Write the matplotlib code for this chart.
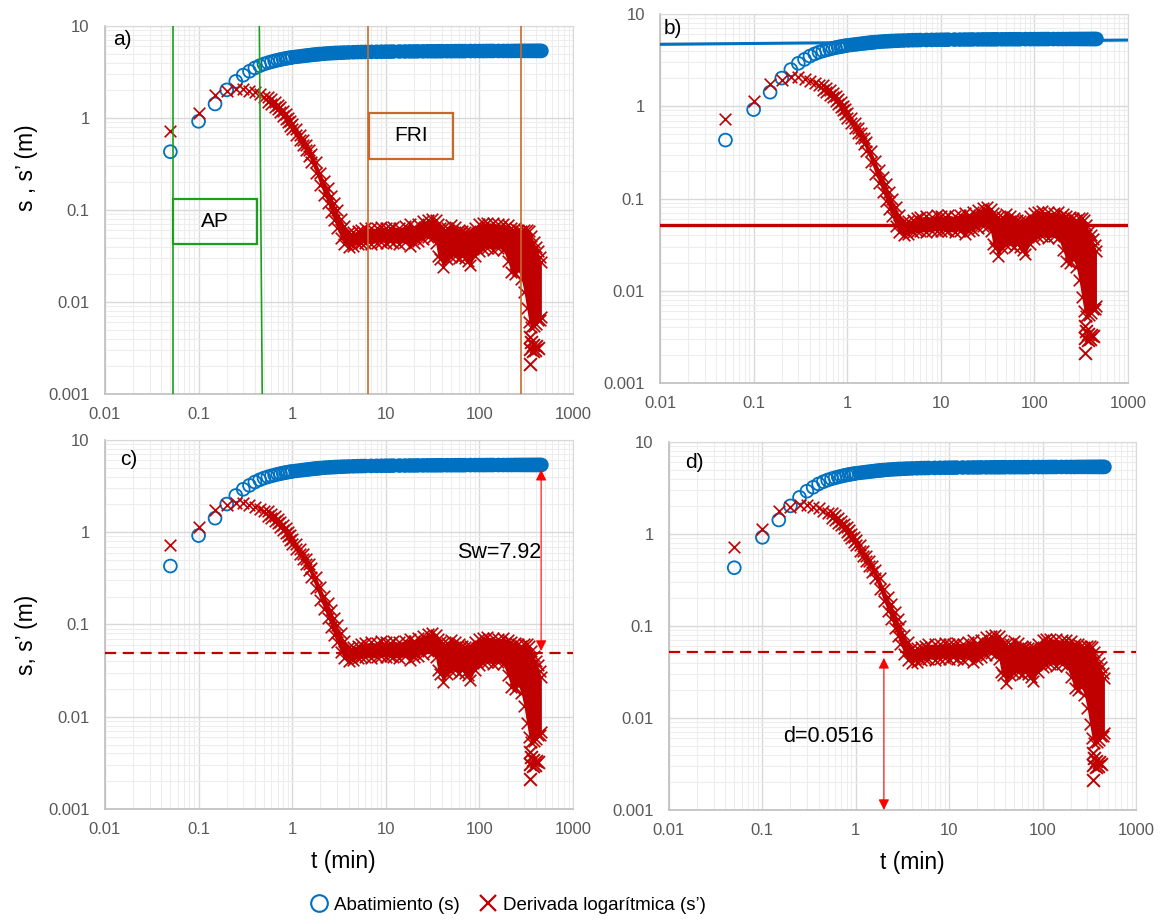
import matplotlib
matplotlib.use("Agg")
import matplotlib.pyplot as plt
from matplotlib.lines import Line2D
from matplotlib.patches import Rectangle
from matplotlib.ticker import LogLocator, NullFormatter

plt.rcParams['font.family'] = ['Liberation Sans', 'DejaVu Sans']

BLUE = '#0070C0'
RED = '#C00000'
GREEN = '#1AA01A'
ORANGE = '#C8692A'

# drawdown s (m) vs time (min)
t_s = [0.05, 0.10, 0.15, 0.20, 0.25, 0.30, 0.35, 0.40, 0.45, 0.50,
       0.55, 0.60, 0.65, 0.70, 0.75, 0.80, 0.85, 0.90, 0.95, 1.0,
       1.1, 1.2, 1.3, 1.4, 1.5, 1.6, 1.7, 1.8, 1.9, 2.0,
       2.2, 2.4, 2.6, 2.8, 3.0, 3.3, 3.6, 4.0, 4.5, 5.0,
       5.5, 6.0, 7.0, 8.0, 9.0, 10, 11, 12, 14, 16,
       18, 20, 22, 25, 28, 31, 34, 37, 40, 45,
       50, 55, 60, 65, 70, 80, 90, 100, 110, 120,
       130, 140, 160, 180, 200, 220, 240, 260, 280, 300,
       320, 340, 360, 380, 400, 420, 440, 460]
s = [0.43, 0.92, 1.42, 2.02, 2.50, 2.92, 3.22, 3.50, 3.70, 3.86,
     3.98, 4.08, 4.17, 4.25, 4.32, 4.38, 4.43, 4.48, 4.52, 4.56,
     4.62, 4.67, 4.72, 4.76, 4.80, 4.84, 4.87, 4.90, 4.93, 4.96,
     5.00, 5.03, 5.06, 5.08, 5.10, 5.12, 5.14, 5.16, 5.18, 5.20,
     5.21, 5.22, 5.23, 5.24, 5.25, 5.26, 5.26, 5.27, 5.28, 5.28,
     5.29, 5.29, 5.30, 5.30, 5.31, 5.31, 5.31, 5.32, 5.32, 5.32,
     5.32, 5.33, 5.33, 5.33, 5.33, 5.34, 5.34, 5.34, 5.34, 5.35,
     5.35, 5.35, 5.35, 5.35, 5.35, 5.35, 5.36, 5.36, 5.36, 5.36,
     5.36, 5.36, 5.36, 5.36, 5.36, 5.36, 5.36, 5.36]

# log derivative s' - early single points
t_d = [0.05, 0.10, 0.15, 0.20, 0.25, 0.30, 0.35, 0.40, 0.45, 0.50]
d = [0.72, 1.13, 1.76, 1.95, 2.08, 2.05, 1.98, 1.90, 1.80, 1.70]

# log derivative s' - dense noisy cloud (upper and lower edge)
t_band = [0.55, 0.60, 0.65, 0.70, 0.75, 0.80, 0.85, 0.90, 0.95, 1.0,
          1.1, 1.2, 1.3, 1.4, 1.5,
          1.6, 1.8, 2.0, 2.2, 2.4, 2.6, 2.8, 3.0, 3.3, 3.6,
          4.0, 4.5, 5.0, 5.5, 6.0, 7.0, 8.0, 9.0, 10, 11,
          12, 14, 16, 18, 20, 22, 25, 28, 31, 34,
          36, 38, 41, 45, 50, 55, 60, 65, 70, 75,
          80, 90, 100, 110, 120, 140, 160, 180, 200, 220,
          240, 260, 280, 300, 320, 340, 360, 380, 400, 420,
          440, 460]
d_hi = [1.70, 1.59, 1.50, 1.40, 1.30, 1.19, 1.10, 1.01, 0.93, 0.85,
        0.75, 0.66, 0.58, 0.51, 0.45,
        0.41, 0.33, 0.255, 0.205, 0.172, 0.142, 0.118, 0.099, 0.080, 0.067,
        0.057, 0.057, 0.059, 0.061, 0.063, 0.064, 0.063, 0.066, 0.064, 0.063,
        0.066, 0.064, 0.067, 0.070, 0.066, 0.071, 0.075, 0.078, 0.080, 0.077,
        0.070, 0.064, 0.063, 0.063, 0.068, 0.065, 0.061, 0.059, 0.057, 0.057,
        0.059, 0.064, 0.070, 0.072, 0.073, 0.072, 0.070, 0.071, 0.068, 0.064,
        0.063, 0.061, 0.059, 0.061, 0.061, 0.059, 0.052, 0.045, 0.040, 0.036,
        0.031, 0.027]
d_lo = [1.51, 1.42, 1.33, 1.25, 1.15, 1.06, 0.97, 0.90, 0.82, 0.75,
        0.66, 0.58, 0.51, 0.45, 0.39,
        0.33, 0.25, 0.185, 0.147, 0.118, 0.094, 0.077, 0.064, 0.050, 0.043,
        0.040, 0.041, 0.043, 0.044, 0.044, 0.043, 0.044, 0.045, 0.044, 0.046,
        0.044, 0.043, 0.045, 0.041, 0.044, 0.046, 0.048, 0.051, 0.049, 0.044,
        0.032, 0.029, 0.024, 0.029, 0.031, 0.032, 0.030, 0.032, 0.030, 0.028,
        0.025, 0.032, 0.036, 0.038, 0.039, 0.037, 0.039, 0.037, 0.028, 0.021,
        0.020, 0.022, 0.018, 0.013, 0.0086, 0.0060, 0.0053, 0.0055, 0.0058, 0.0063,
        0.0064, 0.0069]

# isolated low values at the end of the test
t_tail = [345, 347, 350, 360, 370, 378, 390, 405, 425]
d_tail = [0.0042, 0.0021, 0.0031, 0.0037, 0.0029, 0.0034, 0.0030, 0.0033, 0.0032]

# fitted lines / reference values
fit_t = [0.01, 1000]
fit_s = [4.69, 5.22]
d_level = 0.0516
sw_t = 457
sw_top = 4.75
d_arrow_t = 2.0
d_arrow_top = 0.045

# vertical markers in panel a
ap_left = 0.053
ap_right = [0.446, 0.479]
fri_left = 6.5
fri_right = 276

x_ticks = [0.01, 0.1, 1, 10, 100, 1000]
x_labels = ['0.01', '0.1', '1', '10', '100', '1000']
y_ticks = [0.001, 0.01, 0.1, 1, 10]
y_labels = ['0.001', '0.01', '0.1', '1', '10']


def setup(ax, tag, tag_xy):
    ax.set_xscale('log')
    ax.set_yscale('log')
    ax.set_xlim(0.01, 1000)
    ax.set_ylim(0.001, 10)
    ax.set_xticks(x_ticks)
    ax.set_xticklabels(x_labels)
    ax.set_yticks(y_ticks)
    ax.set_yticklabels(y_labels)
    ax.xaxis.set_minor_locator(LogLocator(base=10, subs=[2, 3, 4, 5, 6, 7, 8, 9], numticks=20))
    ax.yaxis.set_minor_locator(LogLocator(base=10, subs=[2, 3, 4, 5, 6, 7, 8, 9], numticks=20))
    ax.xaxis.set_minor_formatter(NullFormatter())
    ax.yaxis.set_minor_formatter(NullFormatter())
    ax.set_axisbelow(True)
    ax.grid(which='major', color='#D9D9D9', lw=1.0)
    ax.grid(which='minor', color='#EDEDED', lw=0.8)
    ax.tick_params(which='both', length=0, labelsize=12, labelcolor='#595959')
    ax.tick_params(axis='y', pad=11)
    ax.tick_params(axis='x', pad=9)
    for side in ('top', 'right'):
        ax.spines[side].set_color('#D9D9D9')
    for side in ('left', 'bottom'):
        ax.spines[side].set_color('#BFBFBF')
        ax.spines[side].set_linewidth(1.2)
    ax.text(tag_xy[0], tag_xy[1], tag, transform=ax.transAxes, fontsize=15,
            ha='left', va='center', color='black')


def draw_data(ax):
    # drawdown: dense late points merge into a solid band
    late = [i for i, t in enumerate(t_s) if t >= 1.1]
    ax.plot([t_s[i] for i in late], [s[i] for i in late], color=BLUE, lw=9.0,
            solid_capstyle='round', zorder=3)
    ax.scatter(t_s, s, s=85, marker='o', facecolors='none', edgecolors=BLUE,
               linewidths=1.3, zorder=3)
    # log derivative
    ax.fill_between(t_band, d_lo, d_hi, color=RED, lw=0, zorder=4)
    for edge in (d_hi, d_lo):
        ax.scatter(t_band, edge, s=70, marker='x', color=RED, linewidths=1.2, zorder=4)
    ax.scatter(t_d, d, s=70, marker='x', color=RED, linewidths=1.2, zorder=4)
    ax.scatter(t_tail, d_tail, s=85, marker='x', color=RED, linewidths=1.4, zorder=4)


fig = plt.figure(figsize=(11.61, 9.21), dpi=100)
ax_a = fig.add_axes([0.0904, 0.5722, 0.4031, 0.3996])
ax_b = fig.add_axes([0.5685, 0.5841, 0.4031, 0.4007])
ax_c = fig.add_axes([0.0904, 0.1216, 0.4031, 0.4007])
ax_d = fig.add_axes([0.5762, 0.1205, 0.4022, 0.3996])

setup(ax_a, 'a)', (0.017, 0.962))
setup(ax_b, 'b)', (0.008, 0.962))
setup(ax_c, 'c)', (0.032, 0.948))
setup(ax_d, 'd)', (0.034, 0.943))

for ax in (ax_a, ax_b, ax_c, ax_d):
    draw_data(ax)

# panel a: flow regime limits
ax_a.axvline(ap_left, color=GREEN, lw=1.2, zorder=5)
ax_a.plot(ap_right, [10, 0.001], color=GREEN, lw=1.2, zorder=5)
ax_a.axvline(fri_left, color=ORANGE, lw=1.2, zorder=5)
ax_a.axvline(fri_right, color=ORANGE, lw=1.2, zorder=5)
ax_a.add_patch(Rectangle((0.145, 0.408), 0.18, 0.122, transform=ax_a.transAxes,
                         fill=False, ec=GREEN, lw=1.6, zorder=6))
ax_a.text(0.235, 0.469, 'AP', transform=ax_a.transAxes, fontsize=15,
          ha='center', va='center', zorder=6)
ax_a.add_patch(Rectangle((0.564, 0.639), 0.18, 0.125, transform=ax_a.transAxes,
                         fill=False, ec=ORANGE, lw=1.6, zorder=6))
ax_a.text(0.654, 0.7015, 'FRI', transform=ax_a.transAxes, fontsize=15,
          ha='center', va='center', zorder=6)

# panel b: fitted straight lines
ax_b.plot(fit_t, fit_s, color=BLUE, lw=2.2, zorder=5)
ax_b.axhline(d_level, color=RED, lw=2.4, zorder=5)

# panel c: wellbore storage distance
ax_c.axhline(d_level * 0.95, color=RED, lw=1.6, ls=(0, (5, 3)), zorder=5)
ax_c.annotate('', xy=(sw_t, d_level), xytext=(sw_t, sw_top),
              arrowprops=dict(arrowstyle='<|-|>', color='red', lw=0.8,
                              mutation_scale=16, shrinkA=0, shrinkB=0), zorder=6)
ax_c.text(455, 0.61, 'Sw=7.92', fontsize=15.5, ha='right', va='center', zorder=6)

# panel d: derivative plateau level
ax_d.axhline(d_level, color=RED, lw=1.6, ls=(0, (5, 3)), zorder=5)
ax_d.annotate('', xy=(d_arrow_t, 0.001), xytext=(d_arrow_t, d_arrow_top),
              arrowprops=dict(arrowstyle='<|-|>', color='red', lw=0.8,
                              mutation_scale=16, shrinkA=0, shrinkB=0), zorder=6)
ax_d.text(1.55, 0.0063, 'd=0.0516', fontsize=15.5, ha='right', va='center', zorder=6)

# axis titles
ax_a.set_ylabel('s , s’ (m)', fontsize=16.5)
ax_a.yaxis.set_label_coords(-0.143, 0.614)
ax_c.set_ylabel('s, s’ (m)', fontsize=16.5)
ax_c.yaxis.set_label_coords(-0.142, 0.472)
ax_c.set_xlabel('t (min)', fontsize=16.5)
ax_c.xaxis.set_label_coords(0.51, -0.112)
ax_d.set_xlabel('t (min)', fontsize=16.5)
ax_d.xaxis.set_label_coords(0.522, -0.112)

handles = [
    Line2D([], [], ls='none', marker='o', mfc='none', mec=BLUE, ms=12, mew=1.5),
    Line2D([], [], ls='none', marker='x', color=RED, ms=11, mew=1.6),
]
fig.legend(handles, ['Abatimiento (s)', 'Derivada logarítmica (s’)'], loc='center',
           bbox_to_anchor=(0.437, 0.017), ncol=2, frameon=False, fontsize=13.5,
           handlelength=1.0, handletextpad=0.3, columnspacing=1.0)

fig.savefig('out.png', dpi=100)
plt.close(fig)
